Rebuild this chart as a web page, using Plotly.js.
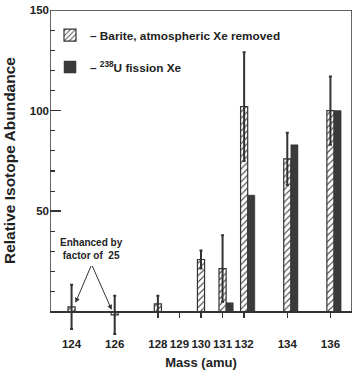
<!DOCTYPE html>
<html>
<head>
<meta charset="utf-8">
<script src="https://cdn.plot.ly/plotly-3.0.1.min.js"></script>
<style>html,body{margin:0;padding:0;background:#fff;}#chart{width:358px;height:375px;}</style>
</head>
<body>
<div id="chart"></div>
<script>
// Data
const bariteMass = [124, 126, 128, 130, 131, 132, 134, 136];
const bariteValues = [2.5, -1.5, 4, 26, 21.5, 102, 76, 100];
const bariteErrors = [11, 9.5, 4, 4.5, 16.5, 27, 13, 17];
const fissionMass = [131, 132, 134, 136];
const fissionValues = [4.5, 58, 83, 100];
const xTickValues = [124, 126, 128, 129, 130, 131, 132, 134, 136];
const xTickLabels = ['124', '126', '128', '129', '130', '131', '132', '134', '136'];
const yTickValues = [50, 100, 150];
const yTickLabels = ['50', '100', '150'];
const yMinorValues = [10, 20, 30, 40, 60, 70, 80, 90, 110, 120, 130, 140];

const FONT = 'Liberation Sans, Arial, sans-serif';
const INK = '#222';
const Y_MIN = -14, Y_MAX = 150, X_MIN = 123, X_MAX = 137;

const traces = [
  {
    type: 'bar',
    name: '– Barite, atmospheric Xe removed',
    legendgroup: 'a',
    x: bariteMass,
    y: bariteValues,
    width: 0.33,
    offset: -0.165,
    marker: {
      color: '#ffffff',
      line: {color: '#333', width: 1.2},
      pattern: {shape: '/', fgcolor: '#444', bgcolor: '#ffffff', size: 4.5, solidity: 0.25}
    },
    error_y: {type: 'data', array: bariteErrors, visible: true, thickness: 2, width: 1.5, color: '#333'}
  },
  {
    type: 'bar',
    name: '– <sup>238</sup>U fission Xe',
    legendgroup: 'b',
    x: fissionMass,
    y: fissionValues,
    width: 0.33,
    offset: 0.165,
    marker: {color: '#3a3a3a', line: {color: '#333', width: 0.5}}
  }
];

const layout = {
  width: 358,
  height: 375,
  margin: {l: 50, r: 6, t: 10, b: 35},
  paper_bgcolor: '#fff',
  plot_bgcolor: '#fff',
  barmode: 'overlay',
  font: {family: FONT, color: INK},
  showlegend: true,
  legend: {
    x: 0.0, y: 0.968, xanchor: 'left', yanchor: 'top',
    bgcolor: 'rgba(0,0,0,0)',
    font: {family: FONT, size: 11.8, color: INK, weight: 'bold'},
    traceorder: 'grouped',
    tracegroupgap: 13,
    itemwidth: 30
  },
  xaxis: {
    range: [X_MIN, X_MAX],
    anchor: 'free',
    position: (0 - Y_MIN) / (Y_MAX - Y_MIN),
    tickmode: 'array',
    tickvals: xTickValues,
    ticktext: xTickLabels,
    ticks: 'outside',
    ticklen: 5,
    tickwidth: 1.5,
    tickcolor: '#333',
    ticklabelstandoff: 16,
    tickfont: {family: FONT, size: 11.5, color: INK, weight: 'bold'},
    showgrid: false,
    zeroline: false,
    showline: true,
    linecolor: '#333',
    linewidth: 1.5,
    title: {text: 'Mass (amu)', font: {family: FONT, size: 13, color: INK, weight: 'bold'}, standoff: 9}
  },
  yaxis: {
    range: [Y_MIN, Y_MAX],
    tickmode: 'array',
    tickvals: yTickValues,
    ticktext: yTickLabels,
    ticks: 'inside',
    ticklen: 11,
    tickwidth: 1.5,
    tickcolor: '#333',
    tickfont: {family: FONT, size: 11.5, color: INK, weight: 'bold'},
    minor: {tickmode: 'array', tickvals: yMinorValues, ticks: 'inside', ticklen: 5, tickwidth: 1.2, tickcolor: '#333', showgrid: false},
    showgrid: false,
    zeroline: false,
    showline: false
  },
  shapes: [
    {type: 'rect', xref: 'x', yref: 'y', x0: X_MIN, x1: X_MAX, y0: 0, y1: Y_MAX,
     line: {color: '#333', width: 1.5}, fillcolor: 'rgba(0,0,0,0)', layer: 'above'}
  ],
  annotations: [
    {
      xref: 'paper', yref: 'y', x: -0.132, y: 75,
      text: 'Relative Isotope Abundance', textangle: -90, showarrow: false,
      xanchor: 'center', yanchor: 'middle',
      font: {family: FONT, size: 15.5, color: INK, weight: 'bold'}
    },
    {
      x: 124.93, y: 31, xref: 'x', yref: 'y',
      text: 'Enhanced by<br>factor of  25',
      showarrow: false,
      font: {family: FONT, size: 10, color: INK, weight: 'bold'},
      align: 'center'
    },
    {
      x: 124.18, y: 4.5, xref: 'x', yref: 'y',
      ax: 124.93, ay: 23.5, axref: 'x', ayref: 'y',
      text: '', showarrow: true, arrowhead: 2, arrowsize: 1, arrowwidth: 1, arrowcolor: '#333'
    },
    {
      x: 125.86, y: 1, xref: 'x', yref: 'y',
      ax: 124.93, ay: 23.5, axref: 'x', ayref: 'y',
      text: '', showarrow: true, arrowhead: 2, arrowsize: 1, arrowwidth: 1, arrowcolor: '#333'
    }
  ]
};

Plotly.newPlot('chart', traces, layout, {staticPlot: true, displayModeBar: false});
</script>
</body>
</html>
